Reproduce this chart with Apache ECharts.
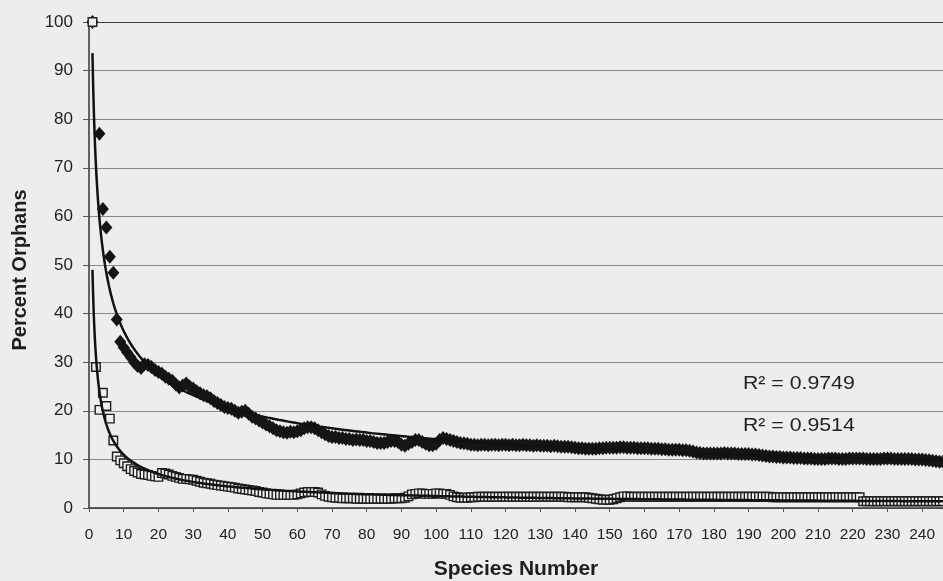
<!DOCTYPE html>
<html><head><meta charset="utf-8">
<script src="https://cdn.jsdelivr.net/npm/echarts@6/dist/echarts.min.js"></script>
<style>html,body{margin:0;padding:0;background:#ededed}#c{width:943px;height:581px}</style>
</head><body><div id="c"></div>
<script>
// Species numbers run 1..246 (index + 1)
const speciesCount = 246;
const xTickMax = 246;

// Percent orphans, filled diamonds (species 1..246)
const diamondValues = [
  100, null, 77, 61.5, 57.7, 51.7, 48.4, 38.8, 34.2, 33.0,
  32.0, 31.0, 30.0, 29.2, 28.8, 29.6, 29.4, 29.0, 28.4, 28.0,
  27.6, 27.0, 26.6, 26.2, 25.4, 24.8, 25.2, 25.6, 25.0, 24.6,
  24.0, 23.6, 23.2, 23.0, 22.6, 22.0, 21.6, 21.2, 20.8, 20.6,
  20.4, 20.0, 19.6, 19.8, 20.0, 19.4, 18.8, 18.4, 18.0, 17.6,
  17.2, 16.8, 16.4, 16.0, 15.8, 15.6, 15.5, 15.7, 15.6, 15.8,
  16.0, 16.4, 16.6, 16.6, 16.4, 16.0, 15.6, 15.2, 14.8, 14.6,
  14.6, 14.4, 14.4, 14.2, 14.2, 14.0, 14.1, 14.0, 14.0, 13.8,
  13.8, 13.6, 13.4, 13.4, 13.4, 13.6, 13.8, 13.8, 13.6, 13.0,
  12.8, 13.2, 13.6, 14.0, 14.0, 13.6, 13.2, 12.9, 12.9, 13.2,
  14.0, 14.4, 14.2, 14.0, 13.8, 13.6, 13.4, 13.3, 13.2, 13.0,
  13.0, 12.9, 13.0, 13.0, 12.9, 13.0, 13.0, 12.9, 13.0, 13.0,
  12.9, 13.0, 12.9, 12.9, 13.0, 12.9, 12.9, 12.8, 12.9, 12.8,
  12.8, 12.8, 12.7, 12.8, 12.7, 12.6, 12.6, 12.6, 12.5, 12.4,
  12.3, 12.3, 12.2, 12.2, 12.2, 12.2, 12.3, 12.3, 12.4, 12.4,
  12.4, 12.4, 12.5, 12.5, 12.4, 12.4, 12.4, 12.3, 12.3, 12.3,
  12.3, 12.2, 12.2, 12.2, 12.1, 12.1, 12.0, 12.0, 12.0, 12.0,
  11.9, 11.9, 11.8, 11.6, 11.4, 11.3, 11.2, 11.2, 11.2, 11.2,
  11.2, 11.2, 11.3, 11.2, 11.2, 11.2, 11.1, 11.1, 11.1, 11.1,
  11.0, 11.0, 10.9, 10.8, 10.7, 10.6, 10.6, 10.5, 10.5, 10.4,
  10.4, 10.4, 10.3, 10.3, 10.3, 10.2, 10.2, 10.2, 10.1, 10.1,
  10.1, 10.1, 10.2, 10.2, 10.2, 10.1, 10.1, 10.1, 10.2, 10.2,
  10.2, 10.2, 10.2, 10.1, 10.1, 10.1, 10.1, 10.1, 10.2, 10.2,
  10.2, 10.1, 10.1, 10.1, 10.1, 10.1, 10.1, 10.0, 10.0, 10.0,
  9.9, 9.8, 9.7, 9.6, 9.5, 9.5
];

// Percent orphans, open squares (species 1..246)
const squareValues = [
  100, 29.0, 20.2, 23.7, 21.0, 18.4, 13.9, 10.6, 9.8, 9.2,
  8.6, 8.0, 7.6, 7.3, 7.0, 6.9, 6.8, 6.6, 6.5, 6.4,
  7.2, 7.1, 6.9, 6.6, 6.4, 6.2, 6.0, 6.0, 5.9, 5.8,
  5.6, 5.4, 5.2, 5.1, 5.0, 4.8, 4.7, 4.6, 4.5, 4.4,
  4.3, 4.2, 4.0, 3.9, 3.8, 3.7, 3.6, 3.5, 3.3, 3.2,
  3.0, 2.9, 2.8, 2.7, 2.7, 2.7, 2.7, 2.7, 2.7, 2.8,
  3.0, 3.2, 3.3, 3.3, 3.3, 3.2, 2.8, 2.5, 2.3, 2.2,
  2.1, 2.1, 2.0, 2.0, 2.0, 2.0, 1.9, 1.9, 1.9, 1.9,
  1.9, 1.9, 1.9, 1.9, 1.9, 1.9, 1.9, 2.0, 2.0, 2.0,
  2.1, 2.4, 2.8, 2.9, 3.0, 3.0, 2.9, 2.9, 2.9, 3.0,
  3.0, 2.9, 2.9, 2.7, 2.4, 2.2, 2.1, 2.1, 2.1, 2.2,
  2.2, 2.3, 2.3, 2.3, 2.3, 2.3, 2.3, 2.3, 2.3, 2.3,
  2.3, 2.3, 2.3, 2.3, 2.3, 2.3, 2.3, 2.3, 2.3, 2.3,
  2.3, 2.3, 2.3, 2.3, 2.3, 2.3, 2.3, 2.2, 2.2, 2.2,
  2.2, 2.2, 2.2, 2.1, 2.0, 1.9, 1.8, 1.7, 1.7, 1.7,
  1.8, 2.0, 2.2, 2.4, 2.4, 2.3, 2.3, 2.3, 2.3, 2.3,
  2.3, 2.3, 2.3, 2.3, 2.3, 2.3, 2.3, 2.3, 2.3, 2.3,
  2.3, 2.3, 2.3, 2.3, 2.3, 2.3, 2.3, 2.3, 2.3, 2.3,
  2.3, 2.3, 2.3, 2.3, 2.3, 2.3, 2.3, 2.3, 2.3, 2.3,
  2.3, 2.3, 2.3, 2.3, 2.3, 2.3, 2.2, 2.2, 2.2, 2.2,
  2.2, 2.2, 2.2, 2.2, 2.2, 2.2, 2.2, 2.2, 2.2, 2.2,
  2.2, 2.2, 2.2, 2.2, 2.2, 2.2, 2.2, 2.2, 2.2, 2.2,
  2.2, 2.2, 1.4, 1.4, 1.4, 1.4, 1.4, 1.4, 1.4, 1.4,
  1.4, 1.4, 1.4, 1.4, 1.4, 1.4, 1.4, 1.4, 1.4, 1.4,
  1.4, 1.4, 1.4, 1.4, 1.4, 1.4
];

// Power trendlines y = a * x^b, coefficients
const diamondTrend = {a: 93.6, b: -0.41};
const squareTrend = {a: 49.0, b: -0.65};
const rSquaredLabels = ['R\u00b2 = 0.9749', 'R\u00b2 = 0.9514'];

function toPoints(vals) {
  const pts = [];
  vals.forEach((v, i) => { if (v != null) pts.push([i + 1, v]); });
  return pts;
}
function trendCurve(fit, vals) {
  const xs = toPoints(vals).map(p => p[0]);
  const x0 = Math.min(...xs), x1 = Math.max(...xs);
  const out = [];
  for (let x = x0; x <= x1 + 1e-9; x += (x < 12 ? 0.05 : 0.5)) out.push([x, fit.a * Math.pow(x, fit.b)]);
  return out;
}

const FONT = 'Liberation Sans, Arial, sans-serif';
const gridColors = ['#8a8a8a','#8a8a8a','#8a8a8a','#8a8a8a','#8a8a8a','#8a8a8a','#8a8a8a','#8a8a8a','#8a8a8a','#8a8a8a','#3a3a3a'];

const chart = echarts.init(document.getElementById('c'), null, {renderer: 'canvas'});
chart.setOption({
  animation: false,
  backgroundColor: '#ededed',
  grid: {left: 89, right: 0, top: 22, bottom: 73, containLabel: false, outerBoundsMode: 'none'},
  xAxis: {
    type: 'value', min: 0, max: xTickMax, interval: 10,
    name: 'Species Number', nameLocation: 'middle', nameGap: 51,
    nameTextStyle: {fontFamily: FONT, fontSize: 21, fontWeight: 'bold', color: '#1e1e1e'},
    axisLine: {show: true, onZero: false, lineStyle: {color: '#333', width: 1.5}},
    axisTick: {show: true, length: 4, lineStyle: {color: '#555'}},
    axisLabel: {fontFamily: FONT, fontSize: 15.5, color: '#222', margin: 19, showMaxLabel: false},
    splitLine: {show: false}
  },
  yAxis: {
    type: 'value', min: 0, max: 100, interval: 10,
    name: 'Percent Orphans', nameLocation: 'middle', nameGap: 59,
    nameTextStyle: {fontFamily: FONT, fontSize: 20, fontWeight: 'bold', color: '#1e1e1e', padding: [0, 10, 0, 0]},
    axisLine: {show: true, lineStyle: {color: '#333', width: 1.5}},
    axisTick: {show: true, length: 6, lineStyle: {color: '#555'}},
    axisLabel: {fontFamily: FONT, fontSize: 17, color: '#222', margin: 16},
    splitLine: {show: true, lineStyle: {color: gridColors, width: 1}}
  },
  series: [
    {
      type: 'scatter', name: 'diamonds', data: toPoints(diamondValues),
      symbol: 'diamond', symbolSize: [12, 14], z: 2,
      itemStyle: {color: '#151515', opacity: 1}
    },
    {
      type: 'scatter', name: 'squares', data: toPoints(squareValues),
      symbol: 'rect', symbolSize: 8.5, z: 3,
      itemStyle: {color: '#f0f0f0', borderColor: '#1e1e1e', borderWidth: 1.4, opacity: 1}
    },
    {
      type: 'line', name: 'diamond trend', data: trendCurve(diamondTrend, diamondValues),
      showSymbol: false, symbol: 'none', z: 5, silent: true,
      lineStyle: {color: '#111', width: 2.5}
    },
    {
      type: 'line', name: 'square trend', data: trendCurve(squareTrend, squareValues),
      showSymbol: false, symbol: 'none', z: 5, silent: true,
      lineStyle: {color: '#111', width: 2.5}
    }
  ],
  graphic: [
    {type: 'text', left: 743, top: 374, z: 10, scaleX: 1.12,
     style: {text: rSquaredLabels[0], fontFamily: FONT, fontSize: 19, fill: '#222'}},
    {type: 'text', left: 743, top: 416, z: 10, scaleX: 1.12,
     style: {text: rSquaredLabels[1], fontFamily: FONT, fontSize: 19, fill: '#222'}}
  ]
});
</script>
</body></html>
